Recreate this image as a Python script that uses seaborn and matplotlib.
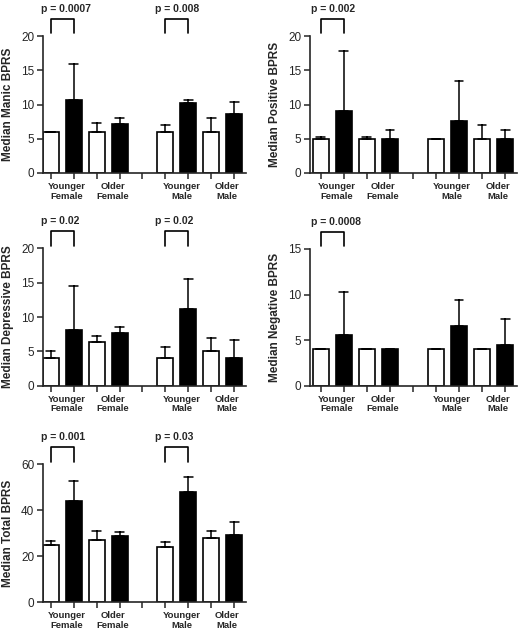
import pandas as pd
import seaborn as sns
import matplotlib.pyplot as plt

sns.set_style('ticks')
plt.rcParams['font.family'] = ['Liberation Sans', 'DejaVu Sans']

# bars in plotting order: open / filled pair for each group
bars = ['YF open', 'YF filled', 'OF open', 'OF filled',
        'YM open', 'YM filled', 'OM open', 'OM filled']
fill = ['open', 'filled'] * 4
slots = bars[:4] + ['gap'] + bars[4:]
groups = ['Younger\nFemale', 'Older\nFemale', 'Younger\nMale', 'Older\nMale']
group_first = ['YF open', 'OF open', 'YM open', 'OM open']

# medians and top of the (upper only) error bars
manic_med = [6, 10.7, 6, 7.1, 6, 10.2, 6, 8.6]
manic_hi = [6, 15.9, 7.3, 8.0, 7.0, 10.6, 8.0, 10.4]
positive_med = [5, 9.1, 5, 5, 5, 7.6, 5, 5]
positive_hi = [5.2, 17.8, 5.2, 6.3, 5, 13.5, 7.0, 6.3]
depressive_med = [4, 8.1, 6.3, 7.6, 4, 11.1, 5, 4]
depressive_hi = [5.0, 14.5, 7.2, 8.5, 5.7, 15.5, 7.0, 6.6]
negative_med = [4, 5.6, 4, 4, 4, 6.6, 4, 4.5]
negative_hi = [4, 10.25, 4, 4, 4, 9.45, 4, 7.35]
total_med = [24.8, 44.2, 27.1, 28.8, 24.2, 48.1, 28.1, 29.3]
total_hi = [26.5, 52.8, 31.2, 30.4, 26.2, 54.6, 31.0, 35.1]

# significant comparisons (group index, label)
manic_p = [(0, 'p = 0.0007'), (2, 'p = 0.008')]
positive_p = [(0, 'p = 0.002')]
depressive_p = [(0, 'p = 0.02'), (2, 'p = 0.02')]
negative_p = [(0, 'p = 0.0008')]
total_p = [(0, 'p = 0.001'), (2, 'p = 0.03')]

panels = [
    ('Median Manic BPRS', manic_med, manic_hi, manic_p, 20, 5, [0.0820, 0.7267, 0.3896, 0.2164], -0.35),
    ('Median Positive BPRS', positive_med, positive_hi, positive_p, 20, 5, [0.5944, 0.7267, 0.3973, 0.2164], -0.48),
    ('Median Depressive BPRS', depressive_med, depressive_hi, depressive_p, 20, 5, [0.0820, 0.3907, 0.3896, 0.2170], -0.35),
    ('Median Negative BPRS', negative_med, negative_hi, negative_p, 15, 5, [0.5944, 0.3907, 0.3973, 0.2160], -0.48),
    ('Median Total BPRS', total_med, total_hi, total_p, 60, 20, [0.0820, 0.0485, 0.3896, 0.2180], -0.35),
]

fig = plt.figure(figsize=(5.21, 6.33), dpi=100)

for label, med, hi, pvals, ymax, ystep, rect, xleft in panels:
    ax = fig.add_axes(rect)
    df = pd.DataFrame({
        'bar': bars * 2,
        'fill': fill * 2,
        'value': med + hi,
    })
    sns.barplot(data=df, x='bar', y='value', hue='fill', order=slots,
                hue_order=['open', 'filled'],
                palette={'open': 'white', 'filled': 'black'},
                estimator='min', errorbar=lambda v: (v.min(), v.max()),
                capsize=0.38, err_kws={'color': 'black', 'linewidth': 1.1},
                edgecolor='black', linewidth=1.2, width=0.7, dodge=False,
                legend=False, ax=ax)
    sns.despine(ax=ax)
    ax.set_xlim(xleft, 8.5)
    ax.set_ylim(0, ymax)
    ax.set_yticks(range(0, ymax + 1, ystep))
    ax.set_xlabel('')
    ax.set_ylabel(label, fontsize=8.5, fontweight='bold')
    ax.yaxis.set_label_coords(-0.14, 0.5)
    ax.tick_params(axis='x', labelbottom=False, length=4, width=1.1)
    ax.tick_params(axis='y', labelsize=8.5, length=4, width=1.1, pad=2)
    for sp in ['left', 'bottom']:
        ax.spines[sp].set_linewidth(1.2)

    trans = ax.get_xaxis_transform()
    for name, g in zip(group_first, groups):
        x0 = slots.index(name)
        ax.text(x0 + 0.7, -0.065, g, transform=trans, ha='center', va='top',
                fontsize=6.8, fontweight='bold', linespacing=1.1)
    for gi, txt in pvals:
        x0 = slots.index(group_first[gi])
        ax.plot([x0, x0, x0 + 1, x0 + 1], [1.02, 1.125, 1.125, 1.02],
                transform=trans, color='black', lw=1.2, clip_on=False)
        ax.text(x0 - 0.44, 1.2, txt, transform=trans, ha='left', va='center',
                fontsize=7.5, fontweight='bold')

fig.savefig('out.png', dpi=100)
